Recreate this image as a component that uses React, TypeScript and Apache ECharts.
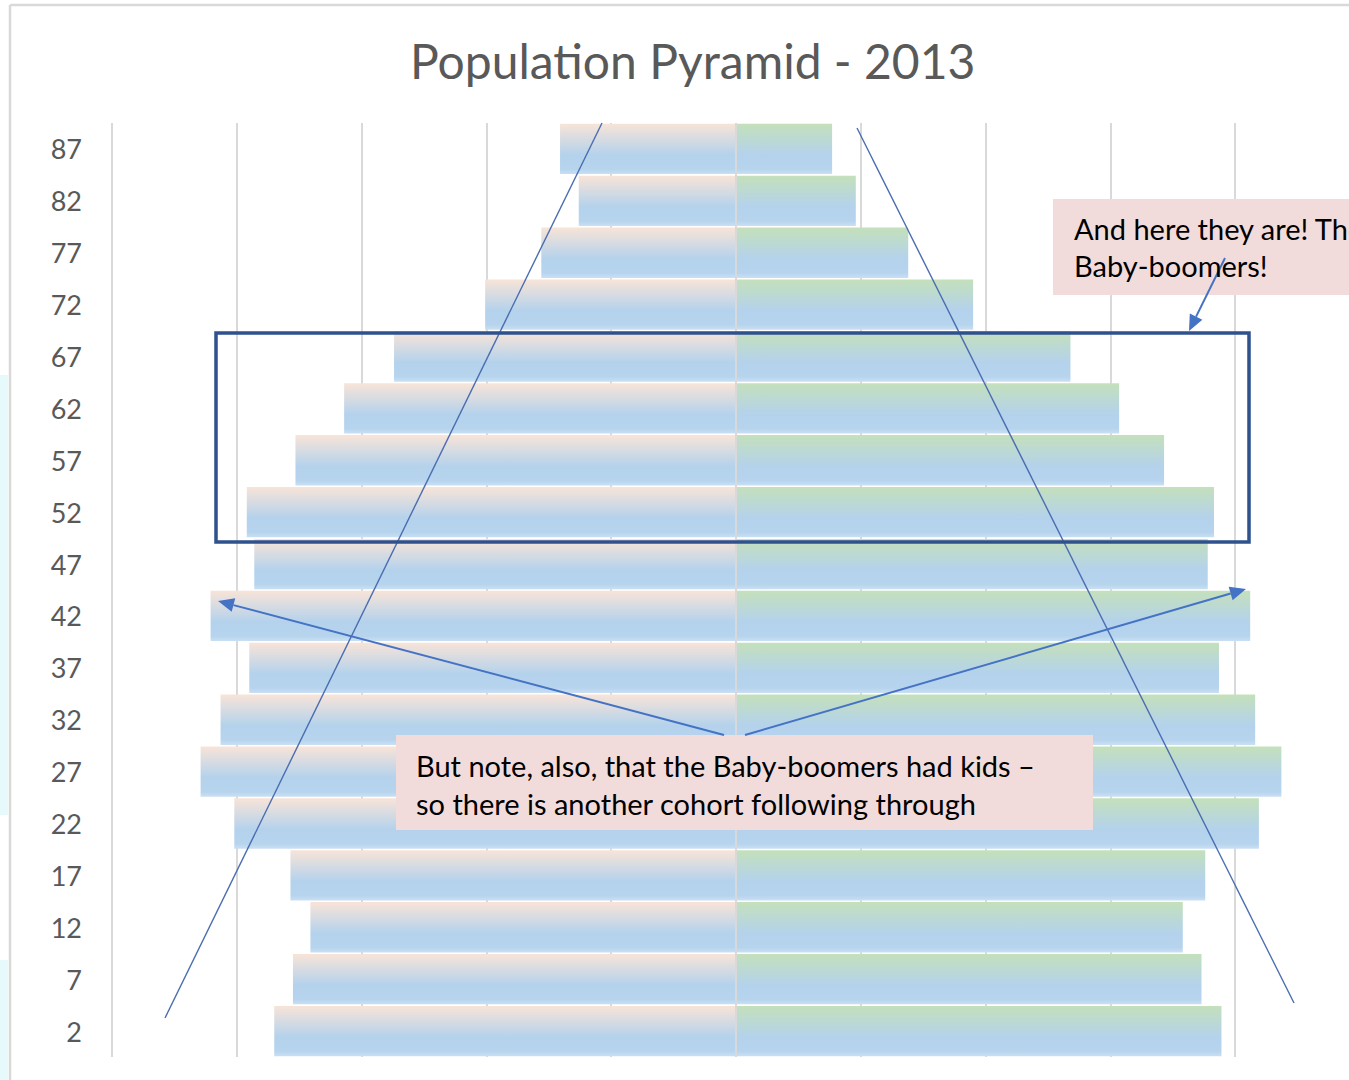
import React, { useEffect, useRef } from "react";
import * as echarts from "echarts";

const ages = ["2", "7", "12", "17", "22", "27", "32", "37", "42", "47", "52", "57", "62", "67", "72", "77", "82", "87"];
const leftValues = [3.70, 3.55, 3.41, 3.57, 4.02, 4.29, 4.13, 3.90, 4.21, 3.86, 3.92, 3.53, 3.14, 2.74, 2.01, 1.56, 1.26, 1.41];
const rightValues = [3.89, 3.73, 3.58, 3.76, 4.19, 4.37, 4.16, 3.87, 4.12, 3.78, 3.83, 3.43, 3.07, 2.68, 1.90, 1.38, 0.96, 0.77];
const titleText = "Population Pyramid - 2013";
const note1 = ["And here they are! The", "Baby-boomers!"];
const note2 = ["But note, also, that the Baby-boomers had kids \u2013", "so there is another cohort following through"];

const FONT = "Lato, 'Open Sans', sans-serif";
const ARROW = "#4472C4";

function arrow(x1: number, y1: number, x2: number, y2: number) {
  const dx = x2 - x1, dy = y2 - y1;
  const len = Math.sqrt(dx * dx + dy * dy);
  const ux = dx / len, uy = dy / len;
  const hl = 16, hw = 7;
  const bx = x2 - ux * hl, by = y2 - uy * hl;
  return [
    { type: "line", shape: { x1, y1, x2: bx, y2: by }, style: { stroke: ARROW, lineWidth: 2 }, z: 100 },
    {
      type: "polygon",
      shape: { points: [[x2, y2], [bx - uy * hw, by + ux * hw], [bx + uy * hw, by - ux * hw]] },
      style: { fill: ARROW },
      z: 100,
    },
  ];
}

export default function App() {
  const ref = useRef<HTMLDivElement>(null);
  useEffect(() => {
    document.body.style.margin = "0";
    document.body.style.overflow = "hidden";
    const chart = echarts.init(ref.current!, undefined, { renderer: "svg" });
    const grad = (top: string) => ({
      type: "linear", x: 0, y: 0, x2: 0, y2: 1,
      colorStops: [
        { offset: 0, color: top },
        { offset: 0.62, color: "#B4D2EC" },
        { offset: 0.9, color: "#B6D4ED" },
        { offset: 1, color: "#CADFF3" },
      ],
    });
    const graphic: any[] = [
      { type: "rect", shape: { x: 0, y: 375, width: 8, height: 440 }, style: { fill: "#E6FAFC" } },
      { type: "rect", shape: { x: 0, y: 960, width: 8, height: 120 }, style: { fill: "#E6FAFC" } },
      { type: "line", shape: { x1: 10, y1: 5, x2: 10, y2: 1080 }, style: { stroke: "#D9D9D9", lineWidth: 2.5 } },
      { type: "line", shape: { x1: 10, y1: 5, x2: 1420, y2: 5 }, style: { stroke: "#D9D9D9", lineWidth: 2.5 } },
      { type: "line", shape: { x1: 165, y1: 1018, x2: 602, y2: 123 }, style: { stroke: "#4A6DB0", lineWidth: 1.4 }, z: 100 },
      { type: "line", shape: { x1: 857, y1: 128, x2: 1294, y2: 1003 }, style: { stroke: "#4A6DB0", lineWidth: 1.4 }, z: 100 },
      { type: "rect", shape: { x: 216, y: 333, width: 1033, height: 209 }, style: { fill: "none", stroke: "#2F528F", lineWidth: 3.5 }, z: 100 },
      { type: "rect", shape: { x: 1053, y: 199, width: 400, height: 96 }, style: { fill: "#F2DCDB" }, z: 100 },
      { type: "text", x: 1074, y: 228, style: { text: note1[0], font: `29px ${FONT}`, fill: "#000", textVerticalAlign: "middle" }, z: 101 },
      { type: "text", x: 1074, y: 265, style: { text: note1[1], font: `29px ${FONT}`, fill: "#000", textVerticalAlign: "middle" }, z: 101 },
      { type: "rect", shape: { x: 396, y: 735, width: 697, height: 95 }, style: { fill: "#F2DCDB" }, z: 100 },
      { type: "text", x: 416, y: 765, style: { text: note2[0], font: `29px ${FONT}`, fill: "#000", textVerticalAlign: "middle" }, z: 101 },
      { type: "text", x: 416, y: 803, style: { text: note2[1], font: `29px ${FONT}`, fill: "#000", textVerticalAlign: "middle" }, z: 101 },
      ...arrow(724, 735, 218, 601),
      ...arrow(745, 735, 1246, 589),
      ...arrow(1225, 258, 1189, 331),
    ];
    chart.setOption({
      animation: false,
      title: {
        text: titleText,
        left: 405,
        top: 31,
        textStyle: { fontSize: 48, fontWeight: "normal", color: "#595959", fontFamily: FONT },
      },
      grid: { left: 112, right: 60, top: 123, bottom: 23 },
      xAxis: {
        type: "value",
        min: -5,
        max: 5,
        interval: 1,
        axisLabel: { show: false },
        axisLine: { show: false },
        axisTick: { show: false },
        splitLine: { show: true, lineStyle: { color: "#D9D9D9", width: 2 } },
      },
      yAxis: {
        type: "category",
        data: ages,
        axisLine: { show: false, onZero: false },
        axisTick: { show: false },
        axisLabel: { color: "#595959", fontSize: 27, fontFamily: FONT, margin: 30 },
        splitLine: { show: false },
      },
      series: [
        {
          name: "Left",
          type: "bar",
          data: leftValues.map((v) => -v),
          barGap: "-100%",
          barCategoryGap: "3%",
          itemStyle: { color: grad("#F8E4D8") },
        },
        {
          name: "Right",
          type: "bar",
          data: rightValues,
          barGap: "-100%",
          barCategoryGap: "3%",
          itemStyle: { color: grad("#C4E0BB") },
          markLine: {
            silent: true,
            symbol: "none",
            label: { show: false },
            lineStyle: { color: "#D9D9D9", width: 2, type: "solid" },
            data: [{ xAxis: 0 }],
          },
        },
      ],
      graphic,
    });
    return () => chart.dispose();
  }, []);
  return (
    <div style={{ position: "absolute", left: 0, top: 0, width: 1349, height: 1080, overflow: "hidden", background: "#fff" }}>
      <div ref={ref} style={{ width: 1420, height: 1080 }} />
    </div>
  );
}
